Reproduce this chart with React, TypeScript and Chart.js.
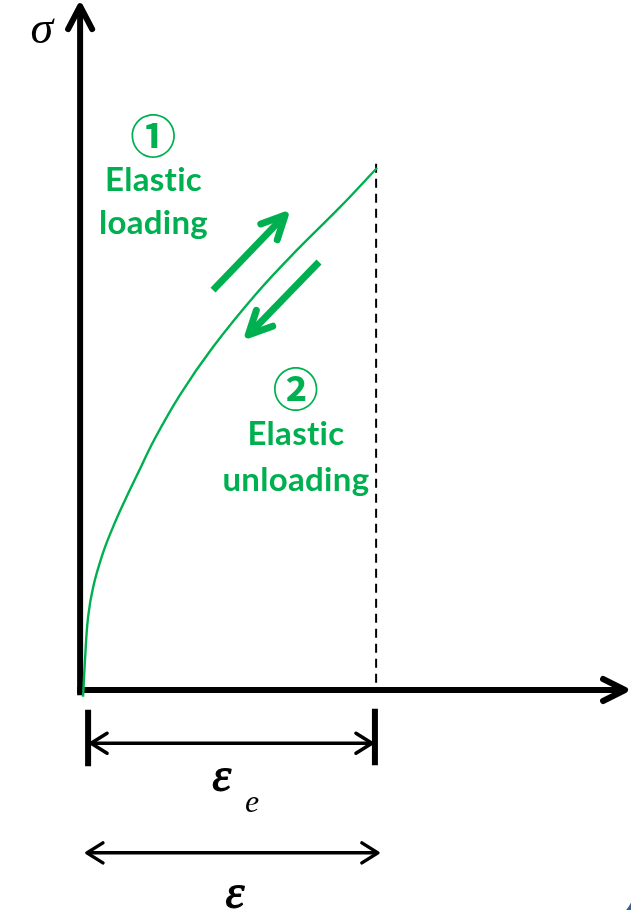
import { useEffect, useRef } from "react";
import { Chart, registerables } from "chart.js";

Chart.register(...registerables);

// Elastic loading / unloading curve (strain, stress), normalised to end point (1, 1)
const strain = [0.007, 0.014, 0.024, 0.041, 0.074, 0.108, 0.149, 0.193, 0.247, 0.334, 0.446, 0.595, 0.73, 0.875, 1.0];
const stress = [-0.013, 0.063, 0.14, 0.197, 0.262, 0.312, 0.364, 0.416, 0.479, 0.565, 0.657, 0.761, 0.843, 0.925, 1.0];

const loadingText = ["①", "Elastic", "loading"];
const unloadingText = ["②", "Elastic", "unloading"];
const axisSymbols = ["σ", "ε", "e"];

const GREEN = "#00B050";

const overlay = {
  id: "diagram",
  beforeDraw(chart: any) {
    const { ctx, width, height } = chart;
    ctx.save();
    ctx.fillStyle = "#3b5f8e";
    ctx.fillRect(0, 0, width, height);
    ctx.fillStyle = "#ffffff";
    ctx.beginPath();
    const r = 40;
    const x0 = -10, y0 = -60, x1 = width + 4, y1 = height + 15;
    ctx.moveTo(x0 + r, y0);
    ctx.arcTo(x1, y0, x1, y1, r);
    ctx.arcTo(x1, y1, x0, y1, r);
    ctx.arcTo(x0, y1, x0, y0, r);
    ctx.arcTo(x0, y0, x1, y0, r);
    ctx.closePath();
    ctx.fill();
    ctx.restore();
  },
  beforeDatasetsDraw(chart: any) {
    const { ctx } = chart;
    const X = (v: number) => chart.scales.x.getPixelForValue(v);
    const Y = (v: number) => chart.scales.y.getPixelForValue(v);
    ctx.save();
    ctx.strokeStyle = "#000";
    ctx.lineJoin = "round";
    // y axis
    ctx.lineWidth = 6;
    ctx.lineCap = "butt";
    ctx.beginPath();
    ctx.moveTo(X(-0.003), Y(-0.01));
    ctx.lineTo(X(-0.003), Y(1.305));
    ctx.stroke();
    ctx.lineCap = "round";
    ctx.beginPath();
    ctx.moveTo(X(-0.003) - 12, Y(1.31) + 23);
    ctx.lineTo(X(-0.003), Y(1.31));
    ctx.lineTo(X(-0.003) + 12, Y(1.31) + 23);
    ctx.stroke();
    // x axis
    ctx.lineCap = "butt";
    ctx.beginPath();
    ctx.moveTo(X(-0.013), Y(0));
    ctx.lineTo(X(1.83), Y(0));
    ctx.stroke();
    ctx.lineCap = "round";
    ctx.beginPath();
    ctx.moveTo(X(1.838) - 22, Y(0) - 11);
    ctx.lineTo(X(1.838), Y(0));
    ctx.lineTo(X(1.838) - 22, Y(0) + 11);
    ctx.stroke();
    // dashed line
    ctx.lineWidth = 2;
    ctx.lineCap = "butt";
    ctx.setLineDash([9, 6]);
    ctx.beginPath();
    ctx.moveTo(X(0.997), Y(1.008));
    ctx.lineTo(X(0.997), Y(0));
    ctx.stroke();
    ctx.setLineDash([]);
    ctx.restore();
  },
  afterDatasetsDraw(chart: any) {
    const { ctx } = chart;
    const X = (v: number) => chart.scales.x.getPixelForValue(v);
    const Y = (v: number) => chart.scales.y.getPixelForValue(v);
    ctx.save();
    ctx.lineJoin = "round";

    const dimArrow = (xa: number, xb: number, yv: number, w: number) => {
      const a = X(xa), b = X(xb), y = Y(yv);
      ctx.strokeStyle = "#000";
      ctx.lineWidth = w;
      ctx.lineCap = "butt";
      ctx.beginPath();
      ctx.moveTo(a + 1, y);
      ctx.lineTo(b - 1, y);
      ctx.stroke();
      ctx.lineCap = "round";
      ctx.beginPath();
      ctx.moveTo(a + 16, y - 10);
      ctx.lineTo(a, y);
      ctx.lineTo(a + 16, y + 10);
      ctx.moveTo(b - 16, y - 10);
      ctx.lineTo(b, y);
      ctx.lineTo(b - 16, y + 10);
      ctx.stroke();
    };

    // dimension ticks
    ctx.strokeStyle = "#000";
    ctx.lineWidth = 6;
    ctx.lineCap = "butt";
    ctx.beginPath();
    ctx.moveTo(X(0.024), Y(-0.038));
    ctx.lineTo(X(0.024), Y(-0.146));
    ctx.moveTo(X(0.993), Y(-0.036));
    ctx.lineTo(X(0.993), Y(-0.144));
    ctx.stroke();
    dimArrow(0.034, 0.983, -0.102, 3.5);
    dimArrow(0.02, 1.003, -0.312, 3.5);

    // symbols
    ctx.fillStyle = "#000";
    ctx.strokeStyle = "#000";
    ctx.textAlign = "center";
    ctx.textBaseline = "middle";
    ctx.font = "italic 46px 'Liberation Serif'";
    ctx.fillText(axisSymbols[0], X(-0.132), Y(1.262));
    ctx.font = "italic 48px 'Liberation Serif'";
    ctx.lineWidth = 1.2;
    ctx.lineJoin = "round";
    const e1x = X(0.475), e1y = Y(-0.17);
    const e2x = X(0.52), e2y = Y(-0.394);
    ctx.fillText(axisSymbols[1], e1x, e1y);
    ctx.strokeText(axisSymbols[1], e1x, e1y);
    ctx.fillText(axisSymbols[1], e2x, e2y);
    ctx.strokeText(axisSymbols[1], e2x, e2y);
    ctx.font = "italic 32px 'Liberation Serif'";
    ctx.fillText(axisSymbols[2], X(0.578), Y(-0.218));

    // green labels
    ctx.fillStyle = GREEN;
    (ctx as any).letterSpacing = "0.3px";
    const drawBlock = (lines: string[], xv: number, ys: number[]) => {
      ctx.font = "bold 46px 'Noto Sans CJK JP'";
      ctx.fillText(lines[0], X(xv), Y(ys[0]));
      ctx.font = "bold 33px Lato";
      ctx.fillText(lines[1], X(xv), Y(ys[1]));
      ctx.fillText(lines[2], X(xv), Y(ys[2]));
    };
    drawBlock(loadingText, 0.245, [1.063, 0.977, 0.893]);
    drawBlock(unloadingText, 0.726, [0.577, 0.489, 0.402]);
    (ctx as any).letterSpacing = "0px";

    // green direction arrows
    const greenArrow = (tx: number, ty: number, hx: number, hy: number) => {
      const x1 = X(tx), y1 = Y(ty), x2 = X(hx), y2 = Y(hy);
      const ang = Math.atan2(y2 - y1, x2 - x1);
      const L = 26, spread = (26 * Math.PI) / 180;
      ctx.strokeStyle = GREEN;
      ctx.lineWidth = 7;
      ctx.lineCap = "butt";
      ctx.beginPath();
      ctx.moveTo(x1, y1);
      ctx.lineTo(x2 - 3 * Math.cos(ang), y2 - 3 * Math.sin(ang));
      ctx.stroke();
      ctx.lineCap = "round";
      ctx.beginPath();
      ctx.moveTo(x2 - L * Math.cos(ang - spread), y2 - L * Math.sin(ang - spread));
      ctx.lineTo(x2, y2);
      ctx.lineTo(x2 - L * Math.cos(ang + spread), y2 - L * Math.sin(ang + spread));
      ctx.stroke();
    };
    greenArrow(0.446, 0.766, 0.69, 0.91);
    greenArrow(0.804, 0.82, 0.565, 0.68);
    ctx.restore();
  },
};

export default function App() {
  const ref = useRef<HTMLCanvasElement | null>(null);
  useEffect(() => {
    if (!ref.current) return;
    const chart = new Chart(ref.current, {
      type: "line",
      data: {
        datasets: [
          {
            data: strain.map((x, i) => ({ x, y: stress[i] })),
            borderColor: GREEN,
            borderWidth: 2.4,
            pointRadius: 0,
            tension: 0.4,
            clip: false as any,
            fill: false,
          },
        ],
      },
      options: {
        animation: false,
        responsive: false,
        devicePixelRatio: 1,
        events: [],
        layout: { padding: { left: 81, right: 254, top: 168, bottom: 220 } },
        scales: {
          x: { type: "linear", min: 0, max: 1, display: false },
          y: { type: "linear", min: 0, max: 1, display: false },
        },
        plugins: { legend: { display: false }, tooltip: { enabled: false } },
      },
      plugins: [overlay],
    });
    return () => chart.destroy();
  }, []);
  return (
    <div style={{ position: "absolute", left: 0, top: 0, width: 631, height: 910 }}>
      <canvas ref={ref} width={631} height={910} />
    </div>
  );
}
